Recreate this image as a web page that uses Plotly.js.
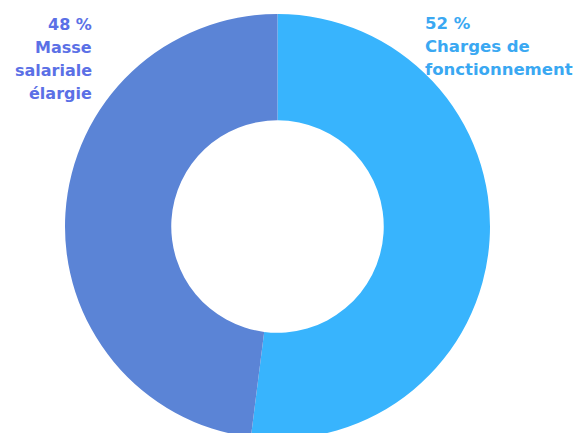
<!DOCTYPE html>
<html><head><meta charset="utf-8">
<script src="https://cdn.plot.ly/plotly-3.0.1.min.js"></script>
<style>html,body{margin:0;padding:0;overflow:hidden;background:#fff}</style>
</head><body><div id="chart"></div>
<script>
const categories = ["Charges de fonctionnement", "Masse salariale élargie"];
const values = [52, 48];
const colors = ["#38b4fd", "#5b84d6"];
const leftLines = ["48 %", "Masse", "salariale", "élargie"];
const rightLines = ["52 %", "Charges de", "fonctionnement"];

const W = 579, H = 447;
const px = x => x / W, py = y => 1 - y / H;

const ann = [];
const leftY = [25, 47, 70, 93];
leftLines.forEach((t, i) => ann.push({
  text: "<b>" + t + "</b>", xref: "paper", yref: "paper", x: px(94), y: py(leftY[i]),
  xanchor: "right", yanchor: "middle", showarrow: false,
  font: {family: "DejaVu Sans", size: 16, color: "#5b70e6"}
}));
const rightY = [23, 46, 69];
rightLines.forEach((t, i) => ann.push({
  text: "<b>" + t + "</b>", xref: "paper", yref: "paper", x: px(423), y: py(rightY[i]),
  xanchor: "left", yanchor: "middle", showarrow: false,
  font: {family: "DejaVu Sans", size: 16.5, color: "#3aa8f2"}
}));

Plotly.newPlot("chart", [{
  type: "pie", labels: categories, values: values, hole: 0.5,
  sort: false, direction: "clockwise", rotation: 0,
  marker: {colors: colors, line: {width: 0}},
  textinfo: "none", hoverinfo: "none",
  domain: {x: [px(65), px(490)], y: [py(439), py(14)]}
}], {
  width: W, height: H, margin: {l: 0, r: 0, t: 0, b: 0},
  showlegend: false, paper_bgcolor: "#fff", annotations: ann
}, {staticPlot: true});
</script></body></html>
